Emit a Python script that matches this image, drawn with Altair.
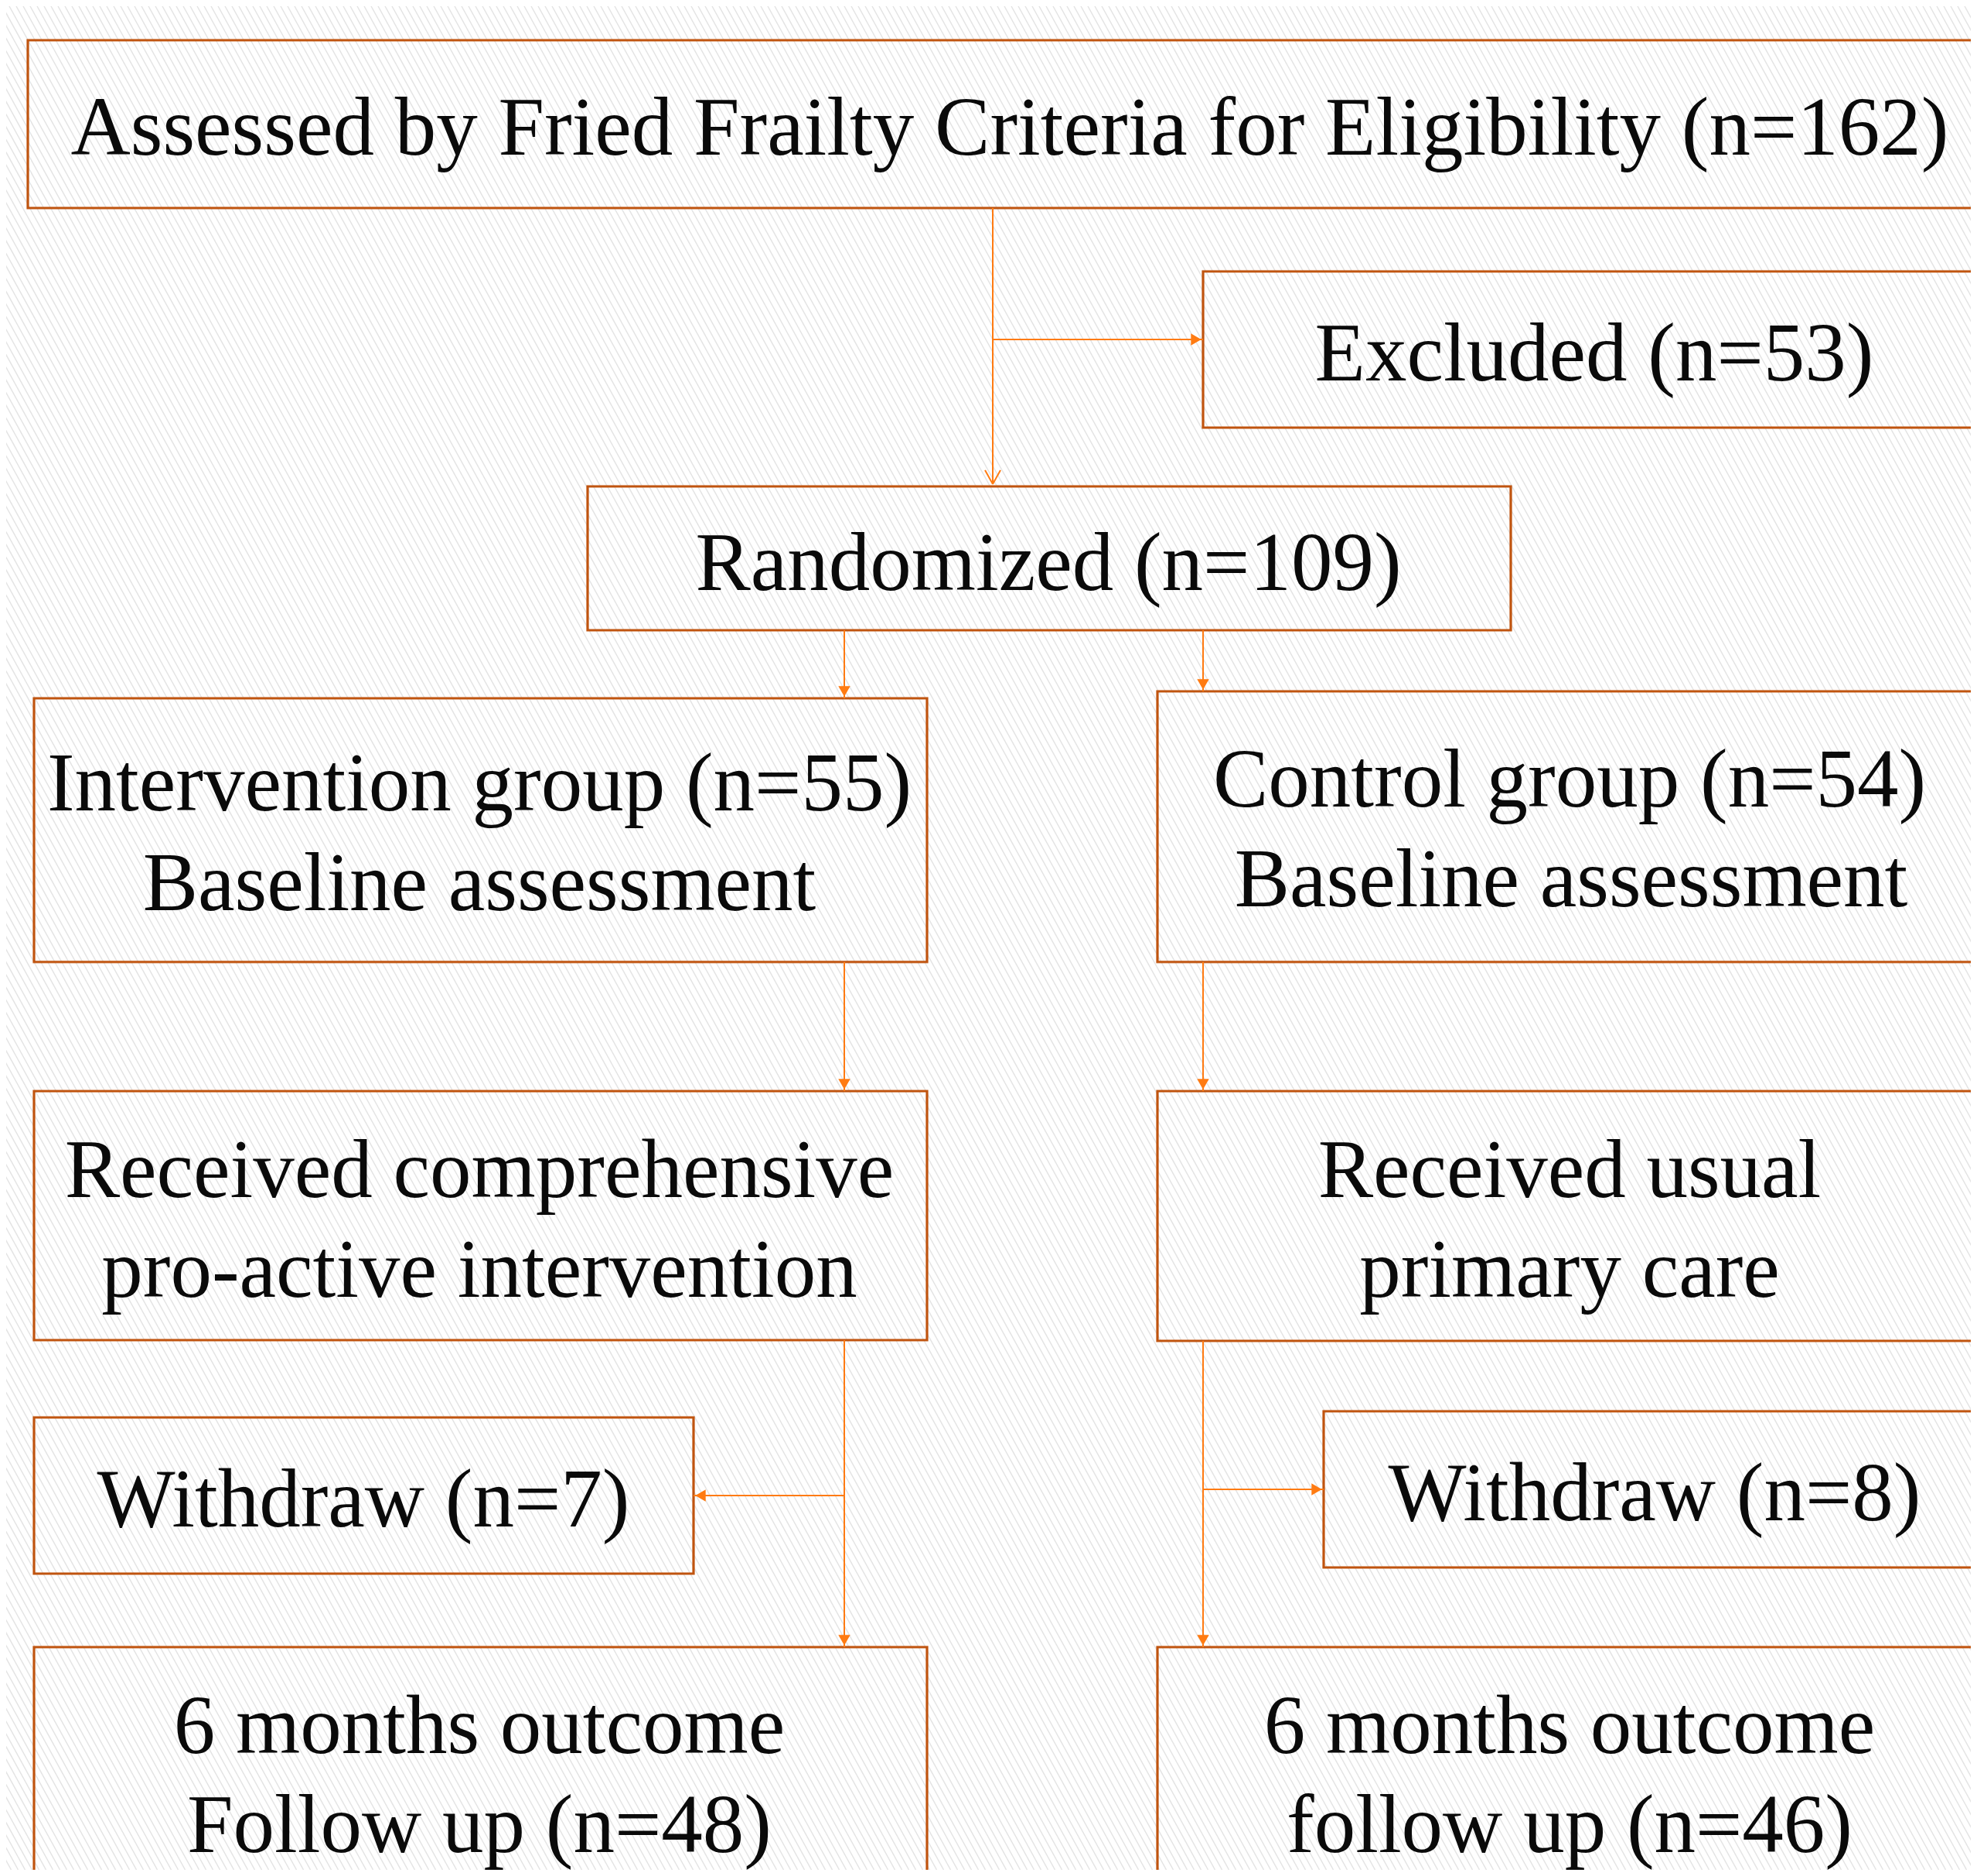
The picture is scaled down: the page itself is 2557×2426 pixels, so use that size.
import altair as alt
import pandas as pd
import numpy as np

# ---- page geometry (chart placed at the 8px page margin) ----
PAGE_W, PAGE_H = 2557, 2426
MARGIN = 8
W, H = PAGE_W - 2 * MARGIN, PAGE_H - 2 * MARGIN

BOX_COLOR = "#c0540f"
ARROW_COLOR = "#ff7b12"
TEXT_COLOR = "#0a0a0a"
FONT = "Liberation Serif"

# ---- flowchart boxes ----
box_names = ["assessed", "excluded", "randomized", "int_base", "ctl_base",
             "int_recv", "ctl_recv", "int_wd", "ctl_wd", "int_fu", "ctl_fu"]
box_left = [36, 1556, 760, 44, 1497, 44, 1497, 44, 1712, 44, 1497]
box_right = [2580, 2564, 1954, 1199, 2563, 1199, 2563, 897, 2568, 1199, 2563]
box_top = [52, 351, 629, 903, 894, 1411, 1411, 1833, 1825, 2130, 2130]
box_bottom = [269, 553, 815, 1244, 1244, 1733, 1734, 2035, 2027, 2450, 2450]

# ---- text lines ----
text_lines = ["Assessed by Fried Frailty Criteria for Eligibility (n=162)",
              "Excluded (n=53)",
              "Randomized (n=109)",
              "Intervention group (n=55)", "Baseline assessment",
              "Control group (n=54)", "Baseline assessment",
              "Received comprehensive", "pro-active intervention",
              "Received usual", "primary care",
              "Withdraw (n=7)", "Withdraw (n=8)",
              "6 months outcome", "Follow up (n=48)",
              "6 months outcome", "follow up (n=46)"]
text_x = [1306, 2062, 1356, 620, 620, 2030, 2032, 620, 620, 2030, 2030,
          470, 2140, 620, 620, 2030, 2030]
text_y = [200, 492, 763, 1048, 1177, 1043, 1172, 1548, 1677, 1548, 1677,
          1974, 1966, 2267, 2395, 2267, 2395]

# ---- connectors ----
arrow_x1 = [1284, 1284, 1092, 1556, 1092, 1556, 1092, 1092, 1556, 1556]
arrow_y1 = [269, 439, 815, 815, 1244, 1244, 1733, 1934, 1734, 1926]
arrow_x2 = [1284, 1556, 1092, 1556, 1092, 1556, 1092, 897, 1556, 1712]
arrow_y2 = [626, 439, 903, 894, 1411, 1411, 2130, 1934, 2130, 1926]
arrow_head = ["open-down", "triangle-right", "triangle-down", "triangle-down",
              "triangle-down", "triangle-down", "triangle-down",
              "triangle-left", "triangle-down", "triangle-right"]

boxes = pd.DataFrame({"name": box_names, "x": box_left, "x2": box_right,
                      "y": box_top, "y2": box_bottom})
texts = pd.DataFrame({"text": text_lines, "x": text_x, "y": text_y})
arrows = pd.DataFrame({"x": arrow_x1, "y": arrow_y1, "x2": arrow_x2,
                       "y2": arrow_y2, "head": arrow_head})

# filled arrowheads: symbol centroid sits ~9px behind the tip
TIP = 9
heads = []
for _, r in arrows.iterrows():
    if r["head"] == "triangle-down":
        heads.append({"x": r["x2"], "y": r["y2"] - TIP, "shape": r["head"]})
    elif r["head"] == "triangle-right":
        heads.append({"x": r["x2"] - TIP, "y": r["y2"], "shape": r["head"]})
    elif r["head"] == "triangle-left":
        heads.append({"x": r["x2"] + TIP, "y": r["y2"], "shape": r["head"]})
heads = pd.DataFrame(heads)

# open V arrowhead on the first connector
vx = []
for _, r in arrows[arrows["head"] == "open-down"].iterrows():
    vx.append({"x": r["x2"] - 10, "y": r["y2"] - 18, "x2": r["x2"], "y2": r["y2"]})
    vx.append({"x": r["x2"] + 10, "y": r["y2"] - 18, "x2": r["x2"], "y2": r["y2"]})
vhead = pd.DataFrame(vx)

# background diagonal hatch (decorative)
hatch_x0 = np.arange(-1500, PAGE_W + 20, 9)
hatch = pd.DataFrame({"x": hatch_x0, "y": MARGIN,
                      "x2": hatch_x0 + 0.55 * H, "y2": MARGIN + H})

xs = alt.Scale(domain=[MARGIN, MARGIN + W], nice=False, zero=False)
ys = alt.Scale(domain=[MARGIN, MARGIN + H], nice=False, zero=False, reverse=True)


def X(f="x"):
    return alt.X(f"{f}:Q", scale=xs, axis=None)


def Y(f="y"):
    return alt.Y(f"{f}:Q", scale=ys, axis=None)


hatch_layer = alt.Chart(hatch).mark_rule(
    color="#e4e4e4", strokeWidth=1.5, clip=True
).encode(x=X(), y=Y(), x2="x2:Q", y2="y2:Q")

box_layer = alt.Chart(boxes).mark_rect(
    filled=False, stroke=BOX_COLOR, strokeWidth=3.2, clip=True
).encode(x=X(), x2="x2:Q", y=Y(), y2="y2:Q")

arrow_layer = alt.Chart(arrows).mark_rule(
    color=ARROW_COLOR, strokeWidth=2, clip=True
).encode(x=X(), y=Y(), x2="x2:Q", y2="y2:Q")

vhead_layer = alt.Chart(vhead).mark_rule(
    color=ARROW_COLOR, strokeWidth=2, clip=True
).encode(x=X(), y=Y(), x2="x2:Q", y2="y2:Q")

head_layer = alt.Chart(heads).mark_point(
    filled=True, size=240, color=ARROW_COLOR, opacity=1, clip=True
).encode(x=X(), y=Y(), shape=alt.Shape("shape:N", scale=None, legend=None))

text_layer = alt.Chart(texts).mark_text(
    font=FONT, fontSize=107, color=TEXT_COLOR, align="center",
    baseline="alphabetic", clip=True
).encode(x=X(), y=Y(), text="text:N")

chart = alt.layer(
    hatch_layer, box_layer, arrow_layer, vhead_layer, head_layer, text_layer
).properties(
    width=W, height=H, padding=0, background="white"
).configure_view(strokeWidth=0)

chart.save("out.html", embed_options={"renderer": "svg", "actions": False})
